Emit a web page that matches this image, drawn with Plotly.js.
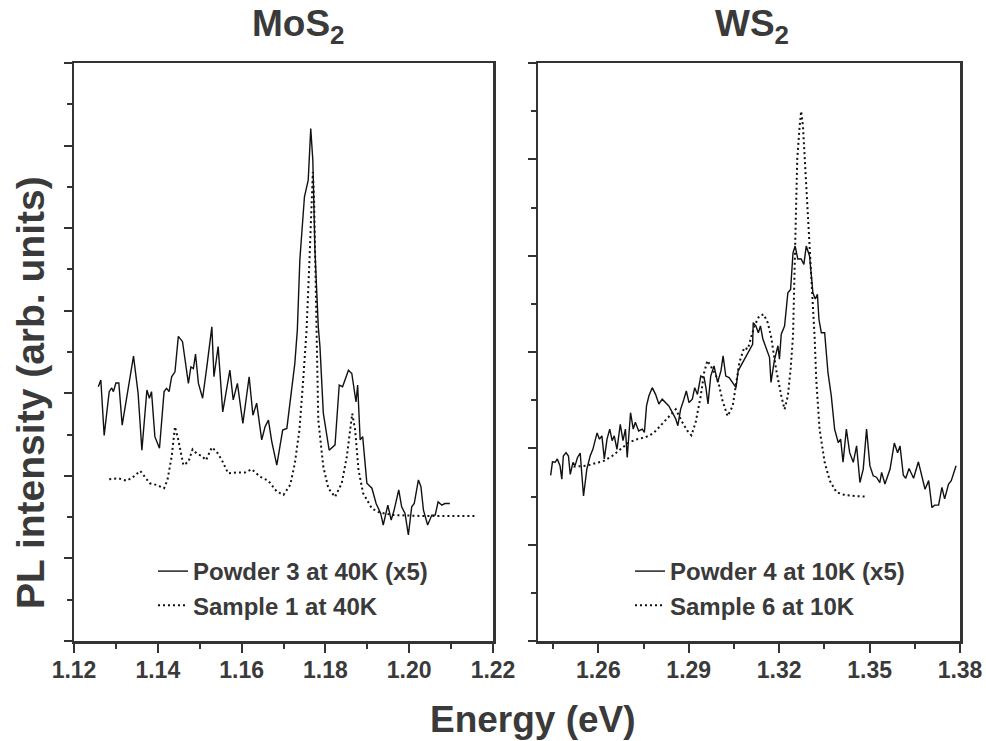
<!DOCTYPE html>
<html>
<head>
<meta charset="utf-8">
<script src="https://cdn.plot.ly/plotly-3.0.1.min.js"></script>
<style>html,body{margin:0;padding:0;background:#fff;}#chart{width:986px;height:741px;}</style>
</head>
<body>
<div id="chart"></div>
<script>
// MoS2 panel
const mos2PowderE = [1.1258,1.1264,1.1272,1.1284,1.1290,1.1294,1.1300,1.1307,1.1315,1.1326,1.1342,1.1353,1.1362,1.1374,1.1380,1.1385,1.1393,1.1404,1.1415,1.1421,1.1427,1.1433,1.1441,1.1449,1.1459,1.1473,1.1479,1.1485,1.1490,1.1497,1.1507,1.1517,1.1529,1.1534,1.1544,1.1555,1.1572,1.1580,1.1590,1.1603,1.1618,1.1627,1.1636,1.1648,1.1656,1.1664,1.1672,1.1684,1.1698,1.1708,1.1720,1.1727,1.1733,1.1739,1.1750,1.1759,1.1765,1.1770,1.1775,1.1783,1.1787,1.1795,1.1809,1.1823,1.1833,1.1841,1.1855,1.1863,1.1873,1.1877,1.1883,1.1889,1.1899,1.1911,1.1921,1.1932,1.1938,1.1949,1.1957,1.1964,1.1975,1.1982,1.1990,1.1998,1.2006,1.2012,1.2022,1.2028,1.2034,1.2044,1.2054,1.2062,1.2069,1.2078,1.2085,1.2097];
const mos2PowderI = [6.16,6.32,4.98,6.04,6.13,6.04,6.25,6.25,5.23,5.92,6.90,6.00,4.62,6.08,5.88,6.04,4.95,4.67,6.04,6.12,6.04,6.40,6.52,7.38,7.25,6.24,6.64,6.60,6.95,6.24,5.88,6.64,7.61,6.40,7.13,5.55,6.56,5.84,6.24,5.27,6.40,5.47,5.76,4.87,5.19,5.35,4.83,4.26,5.11,5.15,6.12,6.72,7.53,9.23,10.76,11.16,12.41,11.65,9.47,7.61,7.13,5.52,4.62,4.75,6.20,6.16,6.56,6.48,5.79,6.20,4.87,4.95,3.82,3.70,3.33,3.09,2.81,3.29,2.93,3.17,3.66,3.25,3.09,2.57,3.25,3.33,3.90,3.74,3.17,2.81,3.05,3.05,3.37,3.29,3.33,3.33];
const mos2SampleE = [1.1284,1.1306,1.1326,1.1342,1.1358,1.1369,1.1381,1.1397,1.1415,1.1423,1.1433,1.1441,1.1449,1.1461,1.1473,1.1483,1.1493,1.1505,1.1515,1.1529,1.1541,1.1553,1.1568,1.1588,1.1608,1.1624,1.1644,1.1664,1.1684,1.1700,1.1716,1.1727,1.1738,1.1747,1.1755,1.1762,1.1767,1.1770,1.1773,1.1775,1.1779,1.1783,1.1795,1.1807,1.1823,1.1839,1.1851,1.1859,1.1864,1.1871,1.1879,1.1890,1.1911,1.1930,1.1962,1.2026,1.2097,1.2157];
const mos2SampleI = [3.92,3.94,3.88,3.98,4.12,3.98,3.82,3.78,3.70,3.90,4.46,5.19,4.87,4.26,4.34,4.64,4.54,4.48,4.38,4.69,4.58,4.38,4.06,4.08,4.08,4.16,3.98,3.88,3.62,3.54,3.78,4.30,5.11,6.32,7.53,9.23,10.52,11.36,10.68,9.55,7.21,5.35,4.22,3.70,3.49,3.82,4.46,5.11,5.51,5.11,4.14,3.58,3.21,3.11,3.05,3.03,3.03,3.03];

// WS2 panel
const ws2PowderE = [1.2442,1.2448,1.2457,1.2464,1.2473,1.2479,1.2484,1.2493,1.2501,1.2507,1.2516,1.2523,1.2531,1.2540,1.2551,1.2562,1.2573,1.2582,1.2596,1.2604,1.2612,1.2620,1.2629,1.2638,1.2646,1.2653,1.2662,1.2673,1.2682,1.2690,1.2696,1.2707,1.2716,1.2723,1.2734,1.2746,1.2753,1.2760,1.2768,1.2779,1.2790,1.2801,1.2812,1.2823,1.2834,1.2846,1.2857,1.2864,1.2873,1.2884,1.2892,1.2901,1.2912,1.2920,1.2929,1.2940,1.2951,1.2957,1.2964,1.2973,1.2984,1.2996,1.3007,1.3014,1.3023,1.3034,1.3057,1.3064,1.3079,1.3090,1.3101,1.3112,1.3114,1.3123,1.3131,1.3138,1.3146,1.3157,1.3168,1.3173,1.3184,1.3196,1.3201,1.3207,1.3218,1.3229,1.3238,1.3246,1.3253,1.3262,1.3273,1.3282,1.3290,1.3301,1.3312,1.3320,1.3327,1.3332,1.3340,1.3351,1.3362,1.3373,1.3384,1.3396,1.3404,1.3412,1.3423,1.3434,1.3446,1.3457,1.3468,1.3479,1.3490,1.3501,1.3512,1.3523,1.3534,1.3540,1.3551,1.3568,1.3582,1.3593,1.3601,1.3612,1.3620,1.3631,1.3646,1.3662,1.3673,1.3684,1.3696,1.3707,1.3716,1.3729,1.3740,1.3749,1.3762,1.3771,1.3787];
const ws2PowderI = [3.44,3.72,3.71,3.78,3.64,3.36,3.84,3.91,3.84,3.46,3.71,3.64,3.81,3.90,3.01,3.57,3.84,3.98,4.32,4.19,4.26,3.78,4.19,4.40,4.16,4.26,3.98,4.50,4.16,4.40,3.81,4.74,4.40,4.54,4.36,4.40,4.33,4.88,5.09,5.26,5.12,4.92,5.02,4.95,4.88,4.74,4.61,4.47,4.81,5.02,5.19,4.95,5.02,5.26,5.12,5.50,5.47,5.26,4.92,5.50,5.71,5.37,5.61,5.92,5.50,5.47,5.26,5.61,5.78,5.89,6.02,6.16,6.61,6.54,6.40,6.54,6.27,6.06,5.89,5.37,5.82,6.13,5.85,6.37,6.54,7.23,7.30,8.06,8.20,7.93,7.93,7.82,8.20,7.99,7.23,7.10,7.20,6.68,6.40,6.40,5.57,5.09,4.40,4.12,4.19,3.71,4.40,3.91,3.71,4.05,3.29,3.57,4.40,3.64,3.43,3.40,3.29,3.50,3.26,3.57,4.11,3.91,4.05,3.44,3.38,3.58,3.38,3.72,3.44,3.15,3.33,2.77,2.82,2.82,3.19,2.95,3.26,3.33,3.64];
const ws2SampleE = [1.2518,1.2562,1.2590,1.2618,1.2646,1.2673,1.2701,1.2729,1.2757,1.2784,1.2812,1.2834,1.2857,1.2879,1.2896,1.2909,1.2923,1.2940,1.2951,1.2962,1.2973,1.2996,1.3012,1.3029,1.3046,1.3057,1.3068,1.3084,1.3096,1.3118,1.3134,1.3149,1.3162,1.3173,1.3190,1.3207,1.3218,1.3229,1.3238,1.3246,1.3249,1.3254,1.3260,1.3268,1.3273,1.3279,1.3287,1.3296,1.3301,1.3309,1.3318,1.3323,1.3334,1.3351,1.3368,1.3390,1.3418,1.3451,1.3484];
const ws2SampleI = [3.62,3.64,3.69,3.74,3.84,3.97,4.12,4.19,4.23,4.32,4.50,4.66,4.81,4.54,4.36,4.27,4.54,5.09,5.57,5.82,5.71,5.44,4.99,4.67,4.88,5.33,5.78,6.09,6.06,6.54,6.75,6.78,6.61,6.33,5.64,5.09,4.81,5.09,5.64,6.33,7.23,8.62,10.00,10.69,11.00,10.69,9.79,8.76,8.20,7.23,6.27,5.44,4.40,3.71,3.33,3.09,3.03,3.01,3.00];

const seriesNames = ["Powder 3 at 40K (x5)", "Sample 1 at 40K", "Powder 4 at 10K (x5)", "Sample 6 at 10K"];
const panelTitles = ["MoS<sub>2</sub>", "WS<sub>2</sub>"];
const xTitle = "Energy (eV)";
const yTitle = "PL intensity (arb. units)";

const FONT = "Liberation Sans, Arial, Helvetica, sans-serif";
const TXT = "#3a3a3a";
const W = 986, H = 741;
const px = v => v / W, py = v => (H - v) / H;

const solid = {color: "#111", width: 1.4};
const dotted = {color: "#111", width: 2, dash: "2px,3px"};

const traces = [
  {x: mos2PowderE, y: mos2PowderI, name: seriesNames[0], mode: "lines", line: solid, xaxis: "x", yaxis: "y", legend: "legend"},
  {x: mos2SampleE, y: mos2SampleI, name: seriesNames[1], mode: "lines", line: dotted, xaxis: "x", yaxis: "y", legend: "legend"},
  {x: ws2PowderE, y: ws2PowderI, name: seriesNames[2], mode: "lines", line: solid, xaxis: "x2", yaxis: "y2", legend: "legend2"},
  {x: ws2SampleE, y: ws2SampleI, name: seriesNames[3], mode: "lines", line: dotted, xaxis: "x2", yaxis: "y2", legend: "legend2"}
];

const tickFont = {family: FONT, size: 23, color: TXT, weight: "bold"};
const axCommon = {
  showline: true, mirror: true, linecolor: "#333", linewidth: 2.5,
  showgrid: false, zeroline: false, ticks: "outside", tickcolor: "#333",
  tickwidth: 2, ticklen: 9
};

const legendCommon = {
  font: {family: FONT, size: 24, color: TXT, weight: "bold"},
  bgcolor: "rgba(0,0,0,0)", borderwidth: 0, xanchor: "left", yanchor: "top",
  tracegroupgap: 0
};

const layout = {
  width: W, height: H,
  margin: {l: 0, r: 0, t: 0, b: 0},
  paper_bgcolor: "#fff", plot_bgcolor: "#fff",
  showlegend: true,
  xaxis: Object.assign({}, axCommon, {
    domain: [px(74), px(493)], range: [1.12, 1.22], anchor: "y",
    tick0: 1.12, dtick: 0.02, tickformat: ".2f", tickfont: tickFont, ticklabelstandoff: -2,
    minor: {dtick: 0.01, ticklen: 5, tickwidth: 2, ticks: "outside", tickcolor: "#333"}
  }),
  yaxis: Object.assign({}, axCommon, {
    domain: [py(641), py(63)], range: [0, 14], anchor: "x",
    dtick: 2, showticklabels: false, ticklen: 8,
    minor: {dtick: 1, ticklen: 5, tickwidth: 2, ticks: "outside", tickcolor: "#333"}
  }),
  xaxis2: Object.assign({}, axCommon, {
    domain: [px(538), px(960)], range: [1.24, 1.38], anchor: "y2",
    tick0: 1.26, dtick: 0.03, tickformat: ".2f", tickfont: tickFont, ticklabelstandoff: -2,
    minor: {tick0: 1.245, dtick: 0.015, ticklen: 5, tickwidth: 2, ticks: "outside", tickcolor: "#333"}
  }),
  yaxis2: Object.assign({}, axCommon, {
    domain: [py(641), py(63)], range: [0, 12], anchor: "x2",
    dtick: 2, showticklabels: false, ticklen: 8,
    minor: {dtick: 1, ticklen: 5, tickwidth: 2, ticks: "outside", tickcolor: "#333"}
  }),
  legend: Object.assign({}, legendCommon, {x: px(153), y: py(549)}),
  legend2: Object.assign({}, legendCommon, {x: px(630), y: py(549)}),
  annotations: [
    {text: panelTitles[0], xref: "paper", yref: "paper", x: px(298), y: py(26), xanchor: "center", yanchor: "middle", showarrow: false,
     font: {family: FONT, size: 37, color: TXT, weight: "bold"}},
    {text: panelTitles[1], xref: "paper", yref: "paper", x: px(752), y: py(26), xanchor: "center", yanchor: "middle", showarrow: false,
     font: {family: FONT, size: 37, color: TXT, weight: "bold"}},
    {text: xTitle, xref: "paper", yref: "paper", x: px(533), y: py(719), xanchor: "center", yanchor: "middle", showarrow: false,
     font: {family: FONT, size: 37, color: TXT, weight: "bold"}},
    {text: yTitle, xref: "paper", yref: "paper", x: px(30), y: py(393), xanchor: "center", yanchor: "middle", showarrow: false, textangle: -90,
     font: {family: FONT, size: 39, color: TXT, weight: "bold"}}
  ]
};

Plotly.newPlot("chart", traces, layout, {staticPlot: true, displayModeBar: false});
</script>
</body>
</html>
